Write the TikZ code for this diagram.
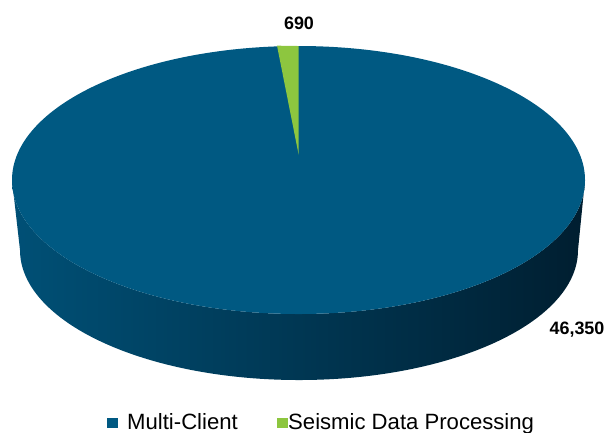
\documentclass[tikz,border=0pt]{standalone}
\usepackage{fontspec}
\setmainfont{Liberation Sans}
\definecolor{topc}{RGB}{0,89,130}
\definecolor{sideL}{RGB}{0,80,118}
\definecolor{sideR}{RGB}{0,30,48}
\definecolor{greenc}{RGB}{141,198,63}
\tikzset{
  vallabel/.style={font=\fontsize{18}{21}\selectfont\bfseries, text=black, inner sep=0pt},
  legtext/.style={font=\fontsize{22.2}{26}\selectfont, text=black, inner sep=0pt, anchor=base west},
  legsq/.style={minimum size=10.5bp, inner sep=0pt, draw=none}
}
\begin{document}
\begin{tikzpicture}[x=1bp,y=-1bp]
\useasboundingbox (0,0) rectangle (610,432);
% side
\shade[left color=sideL, right color=sideR]
  (12,180) arc[start angle=180, end angle=0, x radius=286.5, y radius=134]
  -- (578,250) arc[start angle=0, end angle=180, x radius=279, y radius=130]
  -- cycle;
% top face
\fill[topc] (298.5,180) ellipse[x radius=286.5, y radius=134];
% green wedge
\fill[greenc] (298.7,155) -- (298.5,46) arc[start angle=90, end angle=94.3, x radius=286.5, y radius=134] -- cycle;
% labels
\node[vallabel] (l690) at (299,23) {690};
\node[vallabel] (l46350) at (577,330) {46,350};
% legend
\node[legsq, fill=topc] (sq1) at (112.5,423) {};
\node[legtext] (t1) at (127,429.5) {Multi-Client};
\node[legsq, fill=greenc] (sq2) at (282.5,423) {};
\node[legtext] (t2) at (288,429.5) {Seismic Data Processing};
\end{tikzpicture}
\end{document}
